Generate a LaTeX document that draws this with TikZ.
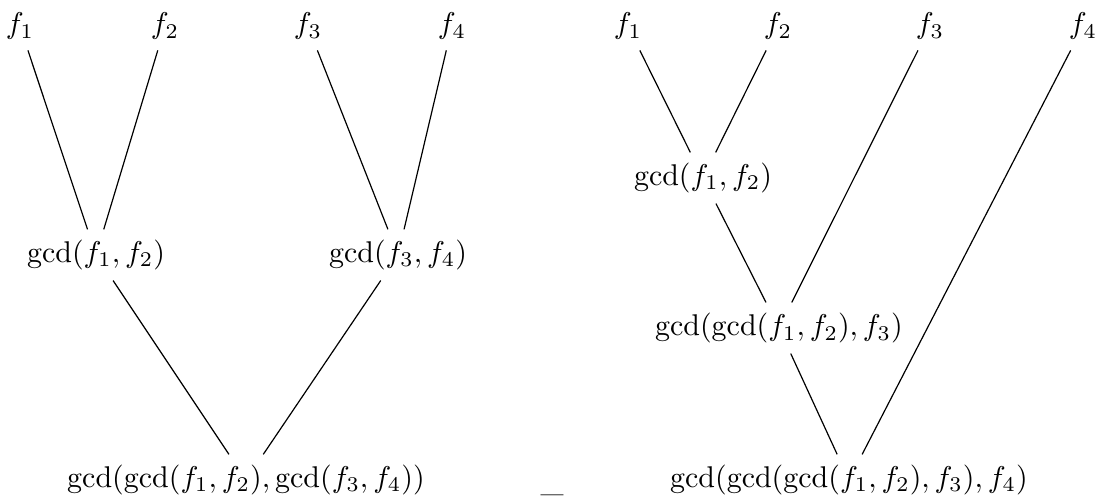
\documentclass[tikz,border=0pt]{standalone}
\usepackage{tikz}
\usetikzlibrary{positioning}

\begin{document}
\begin{tikzpicture}[every node/.style={inner sep=3.33pt,font=\fontsize{10.2}{12}\selectfont},
  conn/.style={draw,thin}]
  \useasboundingbox (0,0) rectangle (12.852,-5.858);
  % balanced tree
  \node (lf1) at (0.234,-0.310) {$f_1$};
  \node (lf2) at (1.933,-0.310) {$f_2$};
  \node (lf3) at (3.608,-0.310) {$f_3$};
  \node (lf4) at (5.295,-0.310) {$f_4$};
  \node (lg12) at (1.125,-2.987) {$\gcd(f_1,f_2)$};
  \node (lg34) at (4.663,-2.987) {$\gcd(f_3,f_4)$};
  \node (lroot) at (2.882,-5.623) {$\gcd(\gcd(f_1,f_2),\gcd(f_3,f_4))$};
  \draw[conn] (lf1)--(lg12); \draw[conn] (lf2)--(lg12);
  \draw[conn] (lf3)--(lg34); \draw[conn] (lf4)--(lg34);
  \draw[conn] (lg12)--(lroot); \draw[conn] (lg34)--(lroot);
  \node[anchor=base] (sep) at (6.467,-5.755) {\_};
  % sequential tree
  \node (rf1) at (7.357,-0.310) {$f_1$};
  \node (rf2) at (9.115,-0.310) {$f_2$};
  \node (rf3) at (10.895,-0.310) {$f_3$};
  \node (rf4) at (12.688,-0.310) {$f_4$};
  \node (rg12) at (8.236,-2.085) {$\gcd(f_1,f_2)$};
  \node (rg123) at (9.126,-3.843) {$\gcd(\gcd(f_1,f_2),f_3)$};
  \node (rroot) at (9.946,-5.623) {$\gcd(\gcd(\gcd(f_1,f_2),f_3),f_4)$};
  \draw[conn] (rf1)--(rg12); \draw[conn] (rf2)--(rg12);
  \draw[conn] (rg12)--(rg123); \draw[conn] (rf3)--(rg123);
  \draw[conn] (rg123)--(rroot); \draw[conn] (rf4)--(rroot);
\end{tikzpicture}
\end{document}
